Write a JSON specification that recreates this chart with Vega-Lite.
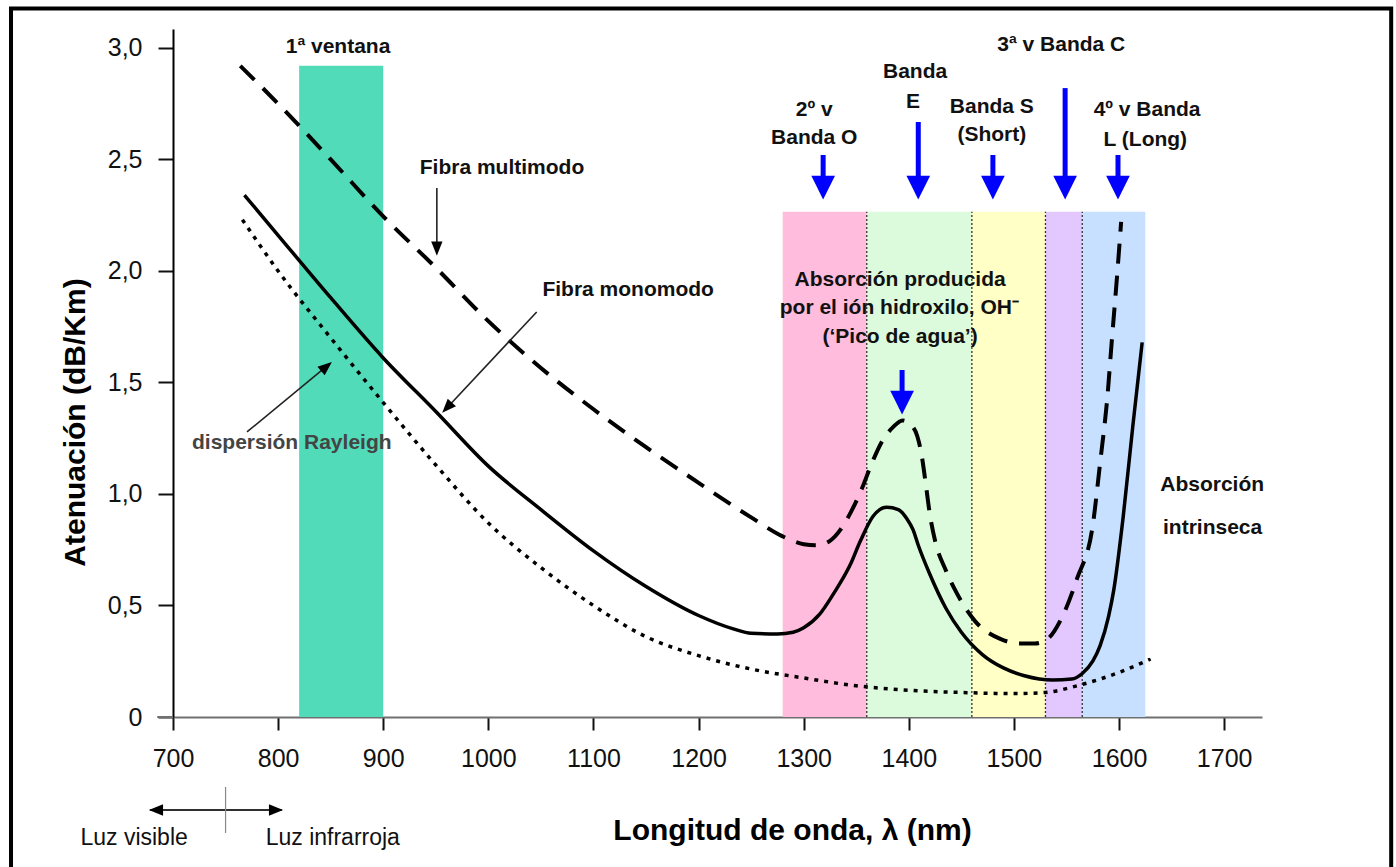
{
  "$schema": "https://vega.github.io/schema/vega-lite/v6.json",
  "width": 1089,
  "height": 688,
  "autosize": {"type": "none"},
  "padding": {"left": 173, "top": 29, "right": 134, "bottom": 150},
  "background": "white",
  "config": {"view": {"stroke": null}, "font": "Liberation Sans"},
  "datasets": {
    "bandas": [
      {"banda": "1ª ventana", "nm": 820, "nm2": 900, "at": 2.92, "at2": 0},
      {"banda": "O", "nm": 1280, "nm2": 1360, "at": 2.265, "at2": 0},
      {"banda": "E", "nm": 1360, "nm2": 1460, "at": 2.265, "at2": 0},
      {"banda": "S", "nm": 1460, "nm2": 1530, "at": 2.265, "at2": 0},
      {"banda": "C", "nm": 1530, "nm2": 1565, "at": 2.265, "at2": 0},
      {"banda": "L", "nm": 1565, "nm2": 1625, "at": 2.265, "at2": 0}
    ],
    "separadores": [
      {"nm": 1360, "at": 0, "at2": 2.265},
      {"nm": 1460, "at": 0, "at2": 2.265},
      {"nm": 1530, "at": 0, "at2": 2.265},
      {"nm": 1565, "at": 0, "at2": 2.265}
    ],
    "curvas": [
      {"fibra": "multimodo", "nm": 764, "at": 2.92},
      {"fibra": "multimodo", "nm": 800, "at": 2.75},
      {"fibra": "multimodo", "nm": 850, "at": 2.5},
      {"fibra": "multimodo", "nm": 900, "at": 2.245},
      {"fibra": "multimodo", "nm": 950, "at": 2.015},
      {"fibra": "multimodo", "nm": 1000, "at": 1.775},
      {"fibra": "multimodo", "nm": 1050, "at": 1.565},
      {"fibra": "multimodo", "nm": 1100, "at": 1.38},
      {"fibra": "multimodo", "nm": 1150, "at": 1.21},
      {"fibra": "multimodo", "nm": 1200, "at": 1.05},
      {"fibra": "multimodo", "nm": 1250, "at": 0.895},
      {"fibra": "multimodo", "nm": 1280, "at": 0.81},
      {"fibra": "multimodo", "nm": 1300, "at": 0.775},
      {"fibra": "multimodo", "nm": 1312, "at": 0.77},
      {"fibra": "multimodo", "nm": 1325, "at": 0.79},
      {"fibra": "multimodo", "nm": 1335, "at": 0.84},
      {"fibra": "multimodo", "nm": 1345, "at": 0.92},
      {"fibra": "multimodo", "nm": 1355, "at": 1.02},
      {"fibra": "multimodo", "nm": 1365, "at": 1.14},
      {"fibra": "multimodo", "nm": 1375, "at": 1.24},
      {"fibra": "multimodo", "nm": 1385, "at": 1.3},
      {"fibra": "multimodo", "nm": 1394, "at": 1.33},
      {"fibra": "multimodo", "nm": 1402, "at": 1.31},
      {"fibra": "multimodo", "nm": 1408, "at": 1.26},
      {"fibra": "multimodo", "nm": 1412, "at": 1.18},
      {"fibra": "multimodo", "nm": 1416, "at": 1.05},
      {"fibra": "multimodo", "nm": 1420, "at": 0.91},
      {"fibra": "multimodo", "nm": 1425, "at": 0.79},
      {"fibra": "multimodo", "nm": 1435, "at": 0.66},
      {"fibra": "multimodo", "nm": 1444, "at": 0.57},
      {"fibra": "multimodo", "nm": 1463, "at": 0.43},
      {"fibra": "multimodo", "nm": 1487, "at": 0.35},
      {"fibra": "multimodo", "nm": 1505, "at": 0.33},
      {"fibra": "multimodo", "nm": 1520, "at": 0.33},
      {"fibra": "multimodo", "nm": 1532, "at": 0.35},
      {"fibra": "multimodo", "nm": 1545, "at": 0.44},
      {"fibra": "multimodo", "nm": 1560, "at": 0.62},
      {"fibra": "multimodo", "nm": 1575, "at": 0.86},
      {"fibra": "multimodo", "nm": 1582, "at": 1.14},
      {"fibra": "multimodo", "nm": 1589, "at": 1.44},
      {"fibra": "multimodo", "nm": 1593, "at": 1.68},
      {"fibra": "multimodo", "nm": 1598, "at": 1.97},
      {"fibra": "multimodo", "nm": 1602, "at": 2.22},
      {"fibra": "monomodo", "nm": 768, "at": 2.34},
      {"fibra": "monomodo", "nm": 800, "at": 2.16},
      {"fibra": "monomodo", "nm": 850, "at": 1.88},
      {"fibra": "monomodo", "nm": 900, "at": 1.61},
      {"fibra": "monomodo", "nm": 950, "at": 1.37},
      {"fibra": "monomodo", "nm": 1000, "at": 1.125},
      {"fibra": "monomodo", "nm": 1050, "at": 0.93},
      {"fibra": "monomodo", "nm": 1100, "at": 0.745},
      {"fibra": "monomodo", "nm": 1150, "at": 0.585},
      {"fibra": "monomodo", "nm": 1200, "at": 0.455},
      {"fibra": "monomodo", "nm": 1233, "at": 0.395},
      {"fibra": "monomodo", "nm": 1250, "at": 0.375},
      {"fibra": "monomodo", "nm": 1275, "at": 0.372},
      {"fibra": "monomodo", "nm": 1290, "at": 0.38},
      {"fibra": "monomodo", "nm": 1300, "at": 0.4},
      {"fibra": "monomodo", "nm": 1315, "at": 0.46},
      {"fibra": "monomodo", "nm": 1328, "at": 0.55},
      {"fibra": "monomodo", "nm": 1344, "at": 0.68},
      {"fibra": "monomodo", "nm": 1354, "at": 0.79},
      {"fibra": "monomodo", "nm": 1366, "at": 0.9},
      {"fibra": "monomodo", "nm": 1379, "at": 0.94},
      {"fibra": "monomodo", "nm": 1390, "at": 0.93},
      {"fibra": "monomodo", "nm": 1398, "at": 0.89},
      {"fibra": "monomodo", "nm": 1404, "at": 0.84},
      {"fibra": "monomodo", "nm": 1409, "at": 0.77},
      {"fibra": "monomodo", "nm": 1420, "at": 0.64},
      {"fibra": "monomodo", "nm": 1435, "at": 0.49},
      {"fibra": "monomodo", "nm": 1450, "at": 0.38},
      {"fibra": "monomodo", "nm": 1470, "at": 0.28},
      {"fibra": "monomodo", "nm": 1490, "at": 0.22},
      {"fibra": "monomodo", "nm": 1510, "at": 0.185},
      {"fibra": "monomodo", "nm": 1537, "at": 0.166},
      {"fibra": "monomodo", "nm": 1555, "at": 0.17},
      {"fibra": "monomodo", "nm": 1565, "at": 0.195},
      {"fibra": "monomodo", "nm": 1575, "at": 0.25},
      {"fibra": "monomodo", "nm": 1582, "at": 0.32},
      {"fibra": "monomodo", "nm": 1590, "at": 0.45},
      {"fibra": "monomodo", "nm": 1595, "at": 0.57},
      {"fibra": "monomodo", "nm": 1604, "at": 0.9},
      {"fibra": "monomodo", "nm": 1613, "at": 1.3},
      {"fibra": "monomodo", "nm": 1622, "at": 1.68},
      {"fibra": "rayleigh", "nm": 766, "at": 2.23},
      {"fibra": "rayleigh", "nm": 800, "at": 2.0},
      {"fibra": "rayleigh", "nm": 850, "at": 1.7},
      {"fibra": "rayleigh", "nm": 900, "at": 1.41},
      {"fibra": "rayleigh", "nm": 950, "at": 1.13},
      {"fibra": "rayleigh", "nm": 1000, "at": 0.87},
      {"fibra": "rayleigh", "nm": 1050, "at": 0.67},
      {"fibra": "rayleigh", "nm": 1100, "at": 0.5},
      {"fibra": "rayleigh", "nm": 1150, "at": 0.36},
      {"fibra": "rayleigh", "nm": 1200, "at": 0.275},
      {"fibra": "rayleigh", "nm": 1250, "at": 0.215},
      {"fibra": "rayleigh", "nm": 1300, "at": 0.175},
      {"fibra": "rayleigh", "nm": 1350, "at": 0.14},
      {"fibra": "rayleigh", "nm": 1400, "at": 0.12},
      {"fibra": "rayleigh", "nm": 1450, "at": 0.11},
      {"fibra": "rayleigh", "nm": 1500, "at": 0.105},
      {"fibra": "rayleigh", "nm": 1530, "at": 0.11},
      {"fibra": "rayleigh", "nm": 1560, "at": 0.14},
      {"fibra": "rayleigh", "nm": 1600, "at": 0.2},
      {"fibra": "rayleigh", "nm": 1630, "at": 0.26}
    ],
    "flechas_azules": [
      {"flecha": "O", "nm": 1318.5, "at": 2.52, "at2": 2.374},
      {"flecha": "E", "nm": 1409, "at": 2.668, "at2": 2.374},
      {"flecha": "S", "nm": 1480, "at": 2.52, "at2": 2.374},
      {"flecha": "C", "nm": 1548.7, "at": 2.82, "at2": 2.374},
      {"flecha": "L", "nm": 1599, "at": 2.52, "at2": 2.374},
      {"flecha": "Pico", "nm": 1393.6, "at": 1.556, "at2": 1.41}
    ],
    "flechas_negras": [
      {"flecha": "multimodo", "nm": 951, "at": 2.372, "nm2": 951, "at2": 2.1},
      {"flecha": "monomodo", "nm": 1046, "at": 1.816, "nm2": 960.7, "at2": 1.387},
      {"flecha": "rayleigh", "nm": 770.4, "at": 1.278, "nm2": 846, "at2": 1.572},
      {"flecha": "luz_izq", "nm": 803.7, "at": -0.417, "nm2": 683.8, "at2": -0.417},
      {"flecha": "luz_der", "nm": 678, "at": -0.417, "nm2": 798, "at2": -0.417}
    ],
    "lineas": [
      {"linea": "eje", "nm": 685, "nm2": 700, "at": 0, "at2": 0},
      {"linea": "luz", "nm": 750, "nm2": 750, "at": -0.314, "at2": -0.52}
    ],
    "marco": [
      {"nm": 545.9, "nm2": 1858.9, "at": 3.177, "at2": -0.8}
    ],
    "textos": [
      {"grupo": "negrita", "texto": "1ª ventana", "nm": 857, "at": 3.004},
      {"grupo": "negrita", "texto": "Fibra multimodo", "nm": 1013, "at": 2.46},
      {"grupo": "negrita", "texto": "Fibra monomodo", "nm": 1133, "at": 1.915},
      {"grupo": "negrita", "texto": "Absorción producida", "nm": 1391.7, "at": 1.96},
      {"grupo": "negrita", "texto": "por el ión hidroxilo, OH⁻", "nm": 1391, "at": 1.834},
      {"grupo": "negrita", "texto": "(‘Pico de agua’)", "nm": 1391.7, "at": 1.704},
      {"grupo": "negrita", "texto": "2º v", "nm": 1310, "at": 2.722},
      {"grupo": "negrita", "texto": "Banda O", "nm": 1310, "at": 2.596},
      {"grupo": "negrita", "texto": "Banda", "nm": 1406, "at": 2.892},
      {"grupo": "negrita", "texto": "E", "nm": 1404, "at": 2.758},
      {"grupo": "negrita", "texto": "Banda S", "nm": 1479, "at": 2.735},
      {"grupo": "negrita", "texto": "(Short)", "nm": 1479, "at": 2.61},
      {"grupo": "negrita", "texto": "3ª v Banda C", "nm": 1545, "at": 3.013},
      {"grupo": "negrita", "texto": "4º v Banda", "nm": 1626.7, "at": 2.722},
      {"grupo": "negrita", "texto": "L (Long)", "nm": 1625, "at": 2.587},
      {"grupo": "negrita", "texto": "Absorción", "nm": 1688.6, "at": 1.04},
      {"grupo": "negrita", "texto": "intrinseca", "nm": 1689, "at": 0.848},
      {"grupo": "gris", "texto": "dispersión Rayleigh", "nm": 813, "at": 1.229},
      {"grupo": "normal", "texto": "Luz visible", "nm": 663, "at": -0.543},
      {"grupo": "normal", "texto": "Luz infrarroja", "nm": 852, "at": -0.543}
    ]
  },
  "encoding": {
    "x": {
      "field": "nm",
      "type": "quantitative",
      "scale": {"domain": [700, 1736], "nice": false, "zero": false},
      "axis": {
        "values": [700, 800, 900, 1000, 1100, 1200, 1300, 1400, 1500, 1600, 1700],
        "format": "d",
        "grid": false,
        "domainColor": "#707070",
        "domainWidth": 2,
        "tickColor": "#111111",
        "tickWidth": 2,
        "tickSize": 13,
        "labelFont": "Liberation Sans",
        "labelFontSize": 25,
        "labelColor": "#111111",
        "labelPadding": 16,
        "labelFlush": false,
        "labelOverlap": false,
        "title": "Longitud de onda, λ (nm)",
        "titleFont": "Liberation Sans",
        "titleFontSize": 30,
        "titleFontWeight": "bold",
        "titleColor": "#000000",
        "titleX": 619,
        "titleY": 113,
        "titleAlign": "center",
        "titleBaseline": "middle"
      }
    },
    "y": {
      "field": "at",
      "type": "quantitative",
      "scale": {"domain": [0, 3.085], "nice": false, "zero": false},
      "axis": {
        "values": [0, 0.5, 1, 1.5, 2, 2.5, 3],
        "labelExpr": "datum.value == 0 ? '0' : replace(format(datum.value, '.1f'), '.', ',')",
        "grid": false,
        "domainColor": "#000000",
        "domainWidth": 2,
        "tickColor": "#111111",
        "tickWidth": 2,
        "tickSize": 15,
        "labelFont": "Liberation Sans",
        "labelFontSize": 25,
        "labelColor": "#111111",
        "labelPadding": 16,
        "labelFlush": false,
        "labelOverlap": false,
        "title": "Atenuación (dB/Km)",
        "titleFont": "Liberation Sans",
        "titleFontSize": 30,
        "titleFontWeight": "bold",
        "titleColor": "#000000",
        "titleAngle": 270,
        "titleX": -98,
        "titleY": 393,
        "titleAlign": "center",
        "titleBaseline": "middle"
      }
    }
  },
  "layer": [
    {
      "data": {"name": "bandas"},
      "mark": {"type": "rect", "opacity": 1},
      "encoding": {
        "x2": {"field": "nm2"},
        "y2": {"field": "at2"},
        "color": {
          "field": "banda",
          "type": "nominal",
          "scale": {
            "domain": ["1ª ventana", "O", "E", "S", "C", "L"],
            "range": ["#52dbb8", "#ffbcdc", "#dcfbdc", "#ffffc6", "#e2c8ff", "#c8e0ff"]
          },
          "legend": null
        }
      }
    },
    {
      "data": {"name": "separadores"},
      "mark": {"type": "rule", "color": "#333333", "strokeWidth": 1.3, "strokeDash": [2, 2]},
      "encoding": {"y2": {"field": "at2"}}
    },
    {
      "data": {"name": "curvas"},
      "transform": [{"filter": "datum.fibra == 'rayleigh'"}],
      "mark": {"type": "line", "color": "#000000", "strokeWidth": 3.5, "strokeDash": [4, 6], "interpolate": "monotone"},
      "encoding": {"order": {"field": "nm", "type": "quantitative"}}
    },
    {
      "data": {"name": "curvas"},
      "transform": [{"filter": "datum.fibra == 'monomodo'"}],
      "mark": {"type": "line", "color": "#000000", "strokeWidth": 3.5, "interpolate": "monotone"},
      "encoding": {"order": {"field": "nm", "type": "quantitative"}}
    },
    {
      "data": {"name": "curvas"},
      "transform": [{"filter": "datum.fibra == 'multimodo'"}],
      "mark": {"type": "line", "color": "#000000", "strokeWidth": 4, "strokeDash": [20, 12], "interpolate": "monotone"},
      "encoding": {"order": {"field": "nm", "type": "quantitative"}}
    },
    {
      "data": {"name": "flechas_azules"},
      "mark": {"type": "rule", "color": "#0000ff", "strokeWidth": 5},
      "encoding": {"y2": {"field": "at2"}}
    },
    {
      "data": {"name": "flechas_azules"},
      "mark": {"type": "point", "shape": "M-1,-1L1,-1L0,1Z", "filled": true, "color": "#0000ff", "opacity": 1, "size": 560},
      "encoding": {"y": {"field": "at2", "type": "quantitative"}}
    },
    {
      "data": {"name": "flechas_negras"},
      "mark": {"type": "rule", "color": "#222222", "strokeWidth": 1.6},
      "encoding": {"x2": {"field": "nm2"}, "y2": {"field": "at2"}}
    },
    {
      "data": {"name": "flechas_negras"},
      "transform": [{"filter": "datum.flecha == 'multimodo'"}],
      "mark": {"type": "point", "shape": "M-0.8,-1L0.8,-1L0,1Z", "filled": true, "color": "#000000", "opacity": 1, "size": 200, "angle": 0},
      "encoding": {"x": {"field": "nm2", "type": "quantitative"}, "y": {"field": "at2", "type": "quantitative"}}
    },
    {
      "data": {"name": "flechas_negras"},
      "transform": [{"filter": "datum.flecha == 'monomodo'"}],
      "mark": {"type": "point", "shape": "M-0.8,-1L0.8,-1L0,1Z", "filled": true, "color": "#000000", "opacity": 1, "size": 200, "angle": 43},
      "encoding": {"x": {"field": "nm2", "type": "quantitative"}, "y": {"field": "at2", "type": "quantitative"}}
    },
    {
      "data": {"name": "flechas_negras"},
      "transform": [{"filter": "datum.flecha == 'rayleigh'"}],
      "mark": {"type": "point", "shape": "M-0.8,-1L0.8,-1L0,1Z", "filled": true, "color": "#000000", "opacity": 1, "size": 200, "angle": 230},
      "encoding": {"x": {"field": "nm2", "type": "quantitative"}, "y": {"field": "at2", "type": "quantitative"}}
    },
    {
      "data": {"name": "flechas_negras"},
      "transform": [{"filter": "datum.flecha == 'luz_izq'"}],
      "mark": {"type": "point", "shape": "M-0.8,-1L0.8,-1L0,1Z", "filled": true, "color": "#000000", "opacity": 1, "size": 200, "angle": 90},
      "encoding": {"x": {"field": "nm2", "type": "quantitative"}, "y": {"field": "at2", "type": "quantitative"}}
    },
    {
      "data": {"name": "flechas_negras"},
      "transform": [{"filter": "datum.flecha == 'luz_der'"}],
      "mark": {"type": "point", "shape": "M-0.8,-1L0.8,-1L0,1Z", "filled": true, "color": "#000000", "opacity": 1, "size": 200, "angle": 270},
      "encoding": {"x": {"field": "nm2", "type": "quantitative"}, "y": {"field": "at2", "type": "quantitative"}}
    },
    {
      "data": {"name": "lineas"},
      "transform": [{"filter": "datum.linea == 'eje'"}],
      "mark": {"type": "rule", "color": "#707070", "strokeWidth": 2},
      "encoding": {"x2": {"field": "nm2"}, "y2": {"field": "at2"}}
    },
    {
      "data": {"name": "lineas"},
      "transform": [{"filter": "datum.linea == 'luz'"}],
      "mark": {"type": "rule", "color": "#888888", "strokeWidth": 1.2},
      "encoding": {"x2": {"field": "nm2"}, "y2": {"field": "at2"}}
    },
    {
      "data": {"name": "textos"},
      "transform": [{"filter": "datum.grupo == 'negrita'"}],
      "mark": {"type": "text", "font": "Liberation Sans", "fontSize": 21, "fontWeight": "bold", "color": "#111111", "align": "center", "baseline": "middle"},
      "encoding": {"text": {"field": "texto"}}
    },
    {
      "data": {"name": "textos"},
      "transform": [{"filter": "datum.grupo == 'gris'"}],
      "mark": {"type": "text", "font": "Liberation Sans", "fontSize": 21, "fontWeight": "bold", "color": "#444444", "align": "center", "baseline": "middle"},
      "encoding": {"text": {"field": "texto"}}
    },
    {
      "data": {"name": "textos"},
      "transform": [{"filter": "datum.grupo == 'normal'"}],
      "mark": {"type": "text", "font": "Liberation Sans", "fontSize": 23, "color": "#111111", "align": "center", "baseline": "middle"},
      "encoding": {"text": {"field": "texto"}}
    },
    {
      "data": {"name": "marco"},
      "mark": {"type": "rect", "fill": null, "fillOpacity": 0, "stroke": "#000000", "strokeWidth": 4},
      "encoding": {"x2": {"field": "nm2"}, "y2": {"field": "at2"}}
    }
  ]
}
